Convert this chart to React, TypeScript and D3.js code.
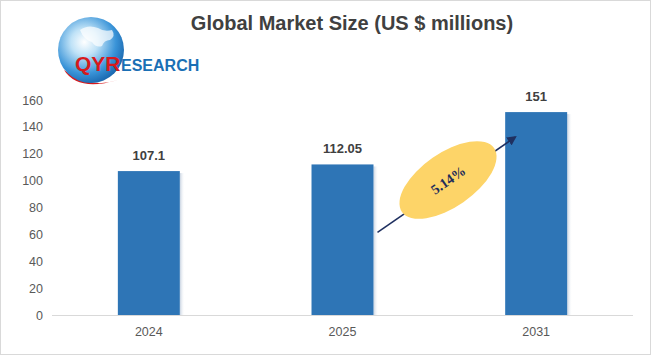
import React from "react";
import * as d3 from "d3";

const categories = ["2024", "2025", "2031"];
const values = [107.1, 112.05, 151];
const valueLabels = ["107.1", "112.05", "151"];
const yTicks = [0, 20, 40, 60, 80, 100, 120, 140, 160];
const cagrLabel = "5.14%";
const title = "Global Market Size (US $ millions)";

const W = 652;
const H = 356;

export default function App() {
  const x = d3.scaleBand<string>().domain(categories).range([52, 633]).paddingInner(0.68).paddingOuter(0.34);
  const y = d3.scaleLinear().domain([0, 160]).range([315, 100]);
  const bw = x.bandwidth();

  const ax1 = (x("2025") as number) + bw + 4;
  const ay1 = y(values[1]) + 68;
  const ax2 = (x("2031") as number) + 10;
  const ay2 = y(values[2]) + 25;
  const cx = 448;
  const cy = 180;
  const angle = (Math.atan2(ay2 - ay1, ax2 - ax1) * 180) / Math.PI;

  return (
    <svg width={W} height={H} style={{ position: "absolute", left: 0, top: 0, background: "#fff" }} fontFamily="'Liberation Sans', Arial, sans-serif">
      <defs>
        <radialGradient id="globe" cx="0.4" cy="0.38" r="0.68">
          <stop offset="0" stopColor="#ffffff" />
          <stop offset="0.3" stopColor="#bfe2f7" />
          <stop offset="0.7" stopColor="#3a94d8" />
          <stop offset="1" stopColor="#1560a8" />
        </radialGradient>
        <linearGradient id="shadow" x1="0" x2="1">
          <stop offset="0" stopColor="#b8c6d8" stopOpacity="0.8" />
          <stop offset="1" stopColor="#ffffff" stopOpacity="0" />
        </linearGradient>
        <marker id="arr" viewBox="0 0 10 10" refX="8" refY="5" markerWidth="6" markerHeight="6" orient="auto">
          <path d="M0,0 L10,5 L0,10 z" fill="#1f3060" />
        </marker>
      </defs>
      <rect x={0.5} y={0.5} width={650} height={354} fill="#fff" stroke="#d9d9d9" />

      {/* logo */}
      <g>
        <path d="M64,70 Q78,92 118,80 Q90,90 64,70 z" fill="#d7191c" />
        <circle cx={91} cy={50} r={33} fill="url(#globe)" />
        <path d="M80,30 q8,-6 18,-2 q6,4 14,2 q4,6 -2,10 q-6,0 -8,6 q-6,2 -10,-4 q-8,-2 -12,-12 z" fill="#ffffff" opacity="0.7" />
        <text x={75} y={71} fontSize={21} fontWeight="bold" fill="#d7191c">QYR</text>
        <text x={121} y={71} fontSize={16} fontWeight="bold" fill="#1a6fb5">ESEARCH</text>
      </g>

      <text x={352} y={30} textAnchor="middle" fontSize={20} fontWeight="bold" fill="#404040">{title}</text>

      {yTicks.map((t) => (
        <text key={t} x={43} y={y(t) + 4.5} textAnchor="end" fontSize={12.5} fill="#595959">{t}</text>
      ))}

      {categories.map((c, i) => (
        <g key={c}>
          <rect x={(x(c) as number) + bw} y={y(values[i]) + 2} width={5} height={315 - y(values[i]) - 2} fill="url(#shadow)" />
          <rect x={x(c)} y={y(values[i])} width={bw} height={315 - y(values[i])} fill="#2e75b6" />
          <text x={(x(c) as number) + bw / 2} y={y(values[i]) - 11} textAnchor="middle" fontSize={13} fontWeight="bold" fill="#404040">{valueLabels[i]}</text>
          <text x={(x(c) as number) + bw / 2} y={336} textAnchor="middle" fontSize={12.5} fill="#595959">{c}</text>
        </g>
      ))}

      <line x1={52} x2={633} y1={315.5} y2={315.5} stroke="#d9d9d9" strokeWidth={1} />

      <line x1={ax1} y1={ay1} x2={ax2} y2={ay2} stroke="#1f3060" strokeWidth={1.6} markerEnd="url(#arr)" />
      <ellipse cx={cx} cy={cy} rx={56} ry={27} transform={`rotate(${angle} ${cx} ${cy})`} fill="#fdd468" />
      <text x={cx} y={cy + 5} textAnchor="middle" fontSize={14} fontWeight="bold" fontFamily="'Liberation Serif', 'Times New Roman', serif" fill="#1f2d5a" transform={`rotate(${angle} ${cx} ${cy})`}>{cagrLabel}</text>
    </svg>
  );
}
